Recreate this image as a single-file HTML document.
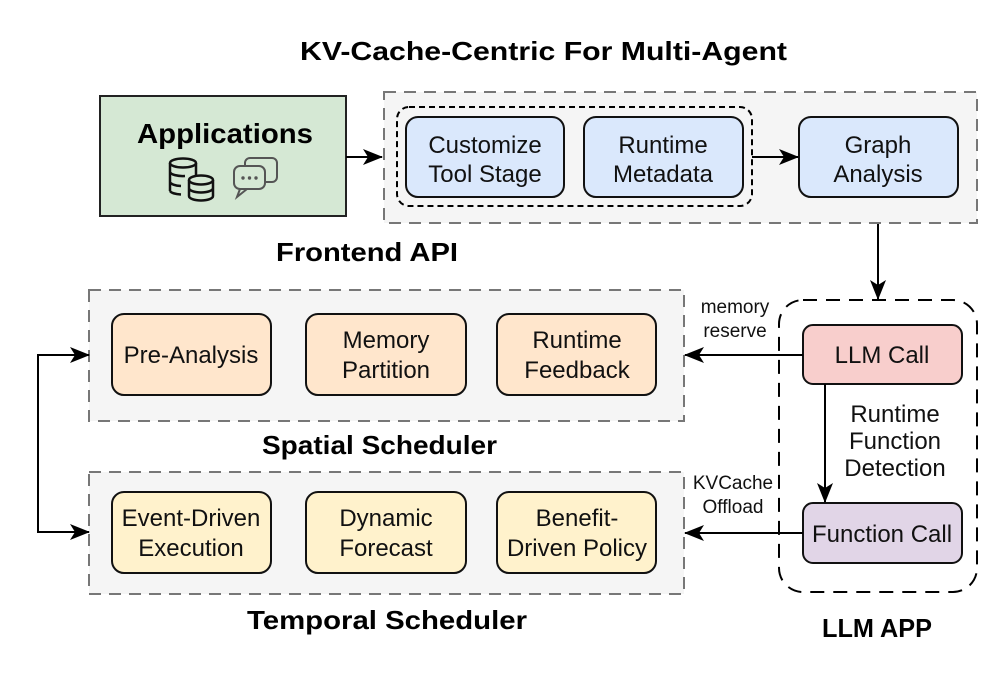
<!DOCTYPE html>
<html><head><style>
body{margin:0;background:#fff;}
svg text{font-family:"Liberation Sans",Arial,sans-serif;}
</style></head><body>
<svg width="997" height="668" viewBox="0 0 997 668" xmlns="http://www.w3.org/2000/svg">
<defs>
<marker id="ah" markerWidth="20" markerHeight="16" refX="19" refY="8" orient="auto" markerUnits="userSpaceOnUse">
<path d="M0,0 L20,8 L0,16 L5,8 Z" fill="#000"/>
</marker>
</defs>
<text x="300" y="60" font-size="26" font-weight="bold" textLength="487" lengthAdjust="spacingAndGlyphs">KV-Cache-Centric For Multi-Agent</text>

<!-- Applications -->
<rect x="100" y="96" width="246" height="120" fill="#d5e8d4" stroke="#222" stroke-width="2"/>
<text x="225" y="143" font-size="28" font-weight="bold" text-anchor="middle" textLength="176" lengthAdjust="spacingAndGlyphs">Applications</text>
<g fill="none" stroke="#111" stroke-width="2.5">
<ellipse cx="183" cy="163" rx="13" ry="4.5"/>
<path d="M170,163 V191 M196,163 V177 M170,172 a13,4.5 0 0 0 15,4 M170,182 a13,4.5 0 0 0 11,4 M170,191 a13,4.5 0 0 0 11,3.5"/>
<ellipse cx="201" cy="180" rx="12" ry="4.5"/>
<path d="M189,180 V196 a12,4.5 0 0 0 24,0 V180 M189,188 a12,4.5 0 0 0 24,0"/>
</g>
<g fill="none" stroke="#555" stroke-width="2">
<rect x="234" y="166" width="31" height="23" rx="6"/>
<path d="M245,166 V163 a5,5 0 0 1 5,-5 h22 a5,5 0 0 1 5,5 v14 a5,5 0 0 1 -5,5 h-7"/>
<path d="M240,189 L237,197 L247,189"/>
</g>
<g fill="#555"><circle cx="243" cy="178" r="1.7"/><circle cx="249.5" cy="178" r="1.7"/><circle cx="256" cy="178" r="1.7"/></g>
<line x1="346" y1="157" x2="382" y2="157" stroke="#000" stroke-width="2" marker-end="url(#ah)"/>

<!-- Frontend -->
<rect x="384" y="92" width="593" height="131" fill="#f5f5f5" stroke="#777" stroke-width="2" stroke-dasharray="12,8"/>
<rect x="397" y="107" width="355" height="99" rx="12" fill="none" stroke="#000" stroke-width="2" stroke-dasharray="6,4"/>
<g stroke="#111" stroke-width="2" fill="#dae8fc">
<rect x="406" y="117" width="158" height="80" rx="12"/>
<rect x="584" y="117" width="159" height="80" rx="12"/>
<rect x="799" y="117" width="159" height="80" rx="12"/>
</g>
<g font-size="24" text-anchor="middle" fill="#111">
<text x="485" y="153">Customize</text><text x="485" y="182">Tool Stage</text>
<text x="663" y="153">Runtime</text><text x="663" y="182">Metadata</text>
<text x="878" y="153">Graph</text><text x="878" y="182">Analysis</text>
</g>
<line x1="752" y1="157" x2="798" y2="157" stroke="#000" stroke-width="2" marker-end="url(#ah)"/>
<text x="276" y="261" font-size="26" font-weight="bold" textLength="182" lengthAdjust="spacingAndGlyphs">Frontend API</text>
<line x1="878" y1="224" x2="878" y2="299" stroke="#000" stroke-width="2" marker-end="url(#ah)"/>

<!-- Spatial -->
<rect x="89" y="290" width="595" height="131" fill="#f5f5f5" stroke="#777" stroke-width="2" stroke-dasharray="12,8"/>
<g stroke="#111" stroke-width="2" fill="#ffe6cc">
<rect x="112" y="314" width="159" height="81" rx="12"/>
<rect x="306" y="314" width="160" height="81" rx="12"/>
<rect x="497" y="314" width="159" height="81" rx="12"/>
</g>
<g font-size="24" text-anchor="middle" fill="#111">
<text x="191" y="363">Pre-Analysis</text>
<text x="386" y="348">Memory</text><text x="386" y="378">Partition</text>
<text x="577" y="348">Runtime</text><text x="577" y="378">Feedback</text>
</g>
<text x="262" y="454" font-size="26" font-weight="bold" textLength="235" lengthAdjust="spacingAndGlyphs">Spatial Scheduler</text>

<!-- Temporal -->
<rect x="89" y="472" width="595" height="122" fill="#f5f5f5" stroke="#777" stroke-width="2" stroke-dasharray="12,8"/>
<g stroke="#111" stroke-width="2" fill="#fff2cc">
<rect x="112" y="492" width="159" height="81" rx="12"/>
<rect x="306" y="492" width="160" height="81" rx="12"/>
<rect x="497" y="492" width="159" height="81" rx="12"/>
</g>
<g font-size="24" text-anchor="middle" fill="#111">
<text x="191" y="526">Event-Driven</text><text x="191" y="556">Execution</text>
<text x="386" y="526">Dynamic</text><text x="386" y="556">Forecast</text>
<text x="577" y="526">Benefit-</text><text x="577" y="556">Driven Policy</text>
</g>
<text x="247" y="629" font-size="26" font-weight="bold" textLength="280" lengthAdjust="spacingAndGlyphs">Temporal Scheduler</text>

<!-- bracket -->
<path d="M70,355 H38 V532 H70" fill="none" stroke="#000" stroke-width="2"/>
<line x1="60" y1="355" x2="89" y2="355" stroke="#000" stroke-width="2" marker-end="url(#ah)"/>
<line x1="60" y1="532" x2="89" y2="532" stroke="#000" stroke-width="2" marker-end="url(#ah)"/>

<!-- LLM APP -->
<rect x="779" y="300" width="198" height="292" rx="24" fill="none" stroke="#000" stroke-width="2" stroke-dasharray="14,9"/>
<rect x="803" y="325" width="159" height="59" rx="10" fill="#f8cecc" stroke="#111" stroke-width="2"/>
<rect x="803" y="503" width="159" height="60" rx="10" fill="#e1d5e7" stroke="#111" stroke-width="2"/>
<g font-size="24" text-anchor="middle" fill="#111">
<text x="882" y="363">LLM Call</text>
<text x="882" y="542">Function Call</text>
<text x="895" y="422">Runtime</text>
<text x="895" y="449">Function</text>
<text x="895" y="476">Detection</text>
</g>
<line x1="825" y1="384" x2="825" y2="502" stroke="#000" stroke-width="2" marker-end="url(#ah)"/>
<line x1="803" y1="355" x2="685" y2="355" stroke="#000" stroke-width="2" marker-end="url(#ah)"/>
<line x1="803" y1="533" x2="685" y2="533" stroke="#000" stroke-width="2" marker-end="url(#ah)"/>
<g font-size="19" text-anchor="middle" fill="#111">
<text x="735" y="313">memory</text><text x="735" y="337">reserve</text>
<text x="733" y="489">KVCache</text><text x="733" y="513">Offload</text>
</g>
<text x="822" y="637" font-size="26" font-weight="bold" textLength="110" lengthAdjust="spacingAndGlyphs">LLM APP</text>
</svg>
</body></html>
